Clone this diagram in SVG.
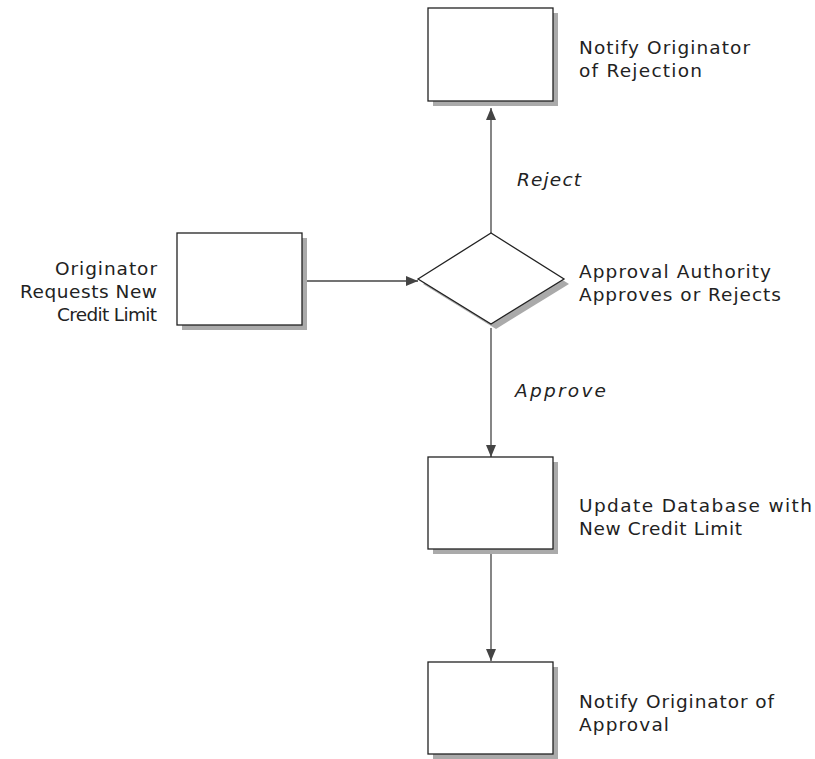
<svg xmlns="http://www.w3.org/2000/svg" width="815" height="759" viewBox="0 0 815 759">
<defs>
<style>
.box{fill:#fff;stroke:#222;stroke-width:1.3}
.sh{fill:#aaa}
.t{font-family:"DejaVu Sans","Open Sans",sans-serif;font-size:18.5px;fill:#222}
.i{font-style:italic}
.c{stroke:#444;stroke-width:1.3;fill:none}
</style>
<marker id="ah" viewBox="0 0 12 10" refX="12" refY="5" markerWidth="12" markerHeight="10" markerUnits="userSpaceOnUse" orient="auto">
<path d="M0,0 L12,5 L0,10 Z" fill="#444"/>
</marker>
</defs>
<rect width="815" height="759" fill="#fff"/>
<g id="connectors">
<line class="c" x1="491" y1="233" x2="491" y2="108" marker-end="url(#ah)"/>
<line class="c" x1="307" y1="281" x2="418" y2="281" marker-end="url(#ah)"/>
<line class="c" x1="491" y1="328" x2="491" y2="457" marker-end="url(#ah)"/>
<line class="c" x1="491" y1="553" x2="491" y2="661" marker-end="url(#ah)"/>
<text class="t i" x="517" y="186" textLength="64" lengthAdjust="spacing">Reject</text>
<text class="t i" x="515" y="397" textLength="91" lengthAdjust="spacing">Approve</text>
</g>
<g id="notify-rejection">
<rect class="sh" x="433" y="13" width="125" height="93"/>
<rect class="box" x="428" y="8" width="125" height="93"/>
<text class="t" x="579" y="54" textLength="171" lengthAdjust="spacing">Notify Originator</text>
<text class="t" x="579" y="77" textLength="123" lengthAdjust="spacing">of Rejection</text>
</g>
<g id="originator-request">
<rect class="sh" x="182" y="238" width="125" height="92"/>
<rect class="box" x="177" y="233" width="125" height="92"/>
<text class="t" x="55" y="275" textLength="102" lengthAdjust="spacing">Originator</text>
<text class="t" x="20" y="298" textLength="137" lengthAdjust="spacing">Requests New</text>
<text class="t" x="57" y="321" textLength="100" lengthAdjust="spacing">Credit Limit</text>
</g>
<g id="approval-decision">
<polygon class="sh" points="423,284 496,238 569,284 496,329"/>
<polygon class="box" points="418,279 491,233 564,279 491,324"/>
<text class="t" x="579" y="278" textLength="192" lengthAdjust="spacing">Approval Authority</text>
<text class="t" x="579" y="301" textLength="202" lengthAdjust="spacing">Approves or Rejects</text>
</g>
<g id="update-database">
<rect class="sh" x="433" y="462" width="125" height="92"/>
<rect class="box" x="428" y="457" width="125" height="92"/>
<text class="t" x="579" y="512" textLength="233" lengthAdjust="spacing">Update Database with</text>
<text class="t" x="579" y="535" textLength="163" lengthAdjust="spacing">New Credit Limit</text>
</g>
<g id="notify-approval">
<rect class="sh" x="433" y="667" width="125" height="92"/>
<rect class="box" x="428" y="662" width="125" height="92"/>
<text class="t" x="579" y="708" textLength="195" lengthAdjust="spacing">Notify Originator of</text>
<text class="t" x="579" y="731" textLength="90" lengthAdjust="spacing">Approval</text>
</g>
</svg>
